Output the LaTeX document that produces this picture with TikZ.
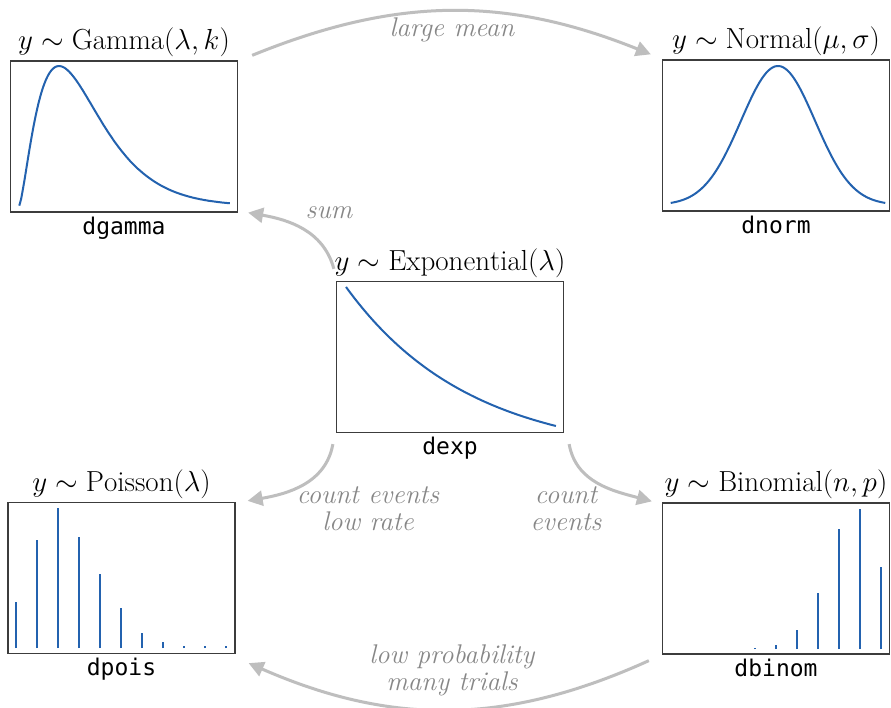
\documentclass[tikz,border=0pt]{standalone}
\usepackage{fix-cm}
\usepackage{fontspec}
\newfontfamily\codefont{DejaVu Sans Mono}
\usetikzlibrary{positioning,arrows.meta}
\definecolor{densblue}{RGB}{35,98,175}
\definecolor{flowgray}{RGB}{190,190,190}
\definecolor{howgray}{RGB}{135,135,135}
\definecolor{framegray}{RGB}{60,60,60}
\begin{document}
\begin{tikzpicture}[
  x=1pt, y=-1pt,
  panel/.style={draw=framegray, line width=1.3pt, minimum width=227pt, minimum height=151pt, inner sep=0pt},
  title/.style={font=\fontsize{29}{33}\selectfont, inner sep=1pt},
  fname/.style={font=\codefont\fontsize{23}{27}\selectfont, inner sep=1pt},
  how/.style={font=\fontsize{27}{27}\selectfont\itshape, text=howgray, align=center, inner sep=1pt},
  flow/.style={draw=flowgray, line width=3pt, -{Triangle[length=15pt, width=15pt]}},
  dens/.style={draw=densblue, line width=2pt},
  spike/.style={draw=densblue, line width=2pt}
]
\path[use as bounding box, fill=white] (0,0) rectangle (891,708);

% the five panels
\node[panel] (gbox) at (124,136.5) {};
\node[panel] (nbox) at (776,135.5) {};
\node[panel] (ebox) at (450,357) {};
\node[panel] (pbox) at (121.5,578) {};
\node[panel] (bbox) at (776,578.5) {};

\node[title, above=2pt of gbox] (gtitle) {$y\sim\mathrm{Gamma}(\lambda,k)$};
\node[title, above=2pt of nbox] (ntitle) {$y\sim\mathrm{Normal}(\mu,\sigma)$};
\node[title, above=2pt of ebox] (etitle) {$y\sim\mathrm{Exponential}(\lambda)$};
\node[title, above=2pt of pbox] (ptitle) {$y\sim\mathrm{Poisson}(\lambda)$};
\node[title, above=2pt of bbox] (btitle) {$y\sim\mathrm{Binomial}(n,p)$};

\node[fname, below=3pt of gbox] (gname) {dgamma};
\node[fname, below=3pt of nbox] (nname) {dnorm};
\node[fname, below=3pt of ebox] (ename) {dexp};
\node[fname, below=3pt of pbox] (pname) {dpois};
\node[fname, below=3pt of bbox] (bname) {dbinom};

% densities
\draw[dens] plot[domain=0.01:7.9, samples=120, smooth] ({19+26.7*\x}, {206-341.5*pow(\x,1.5)*exp(-\x)});
\draw[dens] plot[domain=-2.9:2.9, samples=100, smooth] ({778+37*\x}, {205-139*exp(-\x*\x/2)});
\draw[dens] plot[domain=0:1.7, samples=80, smooth] ({346+123.5*\x}, {426-170.1*(exp(-\x)-0.1827)});
\foreach \h [count=\i from 0] in {46,108,140,111,74,40,15,6,2,2,2}
  \draw[spike] ({16+21*\i},648) -- ++(0,-\h);
\foreach \i/\h in {4/1.5,5/4,6/19,7/56,8/120,9/140,10/82}
  \draw[spike] ({671+21*\i},649) -- ++(0,-\h);

% how they are related
\draw[flow] ([xshift=14pt,yshift=5pt]gbox.north east) to[bend left=22] ([xshift=-11pt,yshift=5pt]nbox.north west);
\draw[flow] ([xshift=-2pt,yshift=12pt]ebox.north west) to[out=105, in=-10] ([xshift=10pt]gbox.south east);
\draw[flow] ([xshift=-3pt,yshift=-11pt]ebox.south west) to[out=-100, in=10] ([xshift=12pt,yshift=1pt]pbox.north east);
\draw[flow] ([xshift=5pt,yshift=-11pt]ebox.south east) to[out=-80, in=165] ([xshift=-10pt,yshift=1pt]bbox.north west);
\draw[flow] ([xshift=-13pt,yshift=-6pt]bbox.south west) to[bend left=24] ([xshift=13pt,yshift=-9pt]pbox.south east);

\node[how] (meanlbl) at (452,30) {large mean};
\node[how] (sumlbl) at (329,213) {sum};
\node[how] (ratelbl) at (368,509) {count events\\low rate};
\node[how] (countlbl) at (566,509) {count\\events};
\node[how] (triallbl) at (452,670) {low probability\\many trials};
\end{tikzpicture}
\end{document}
